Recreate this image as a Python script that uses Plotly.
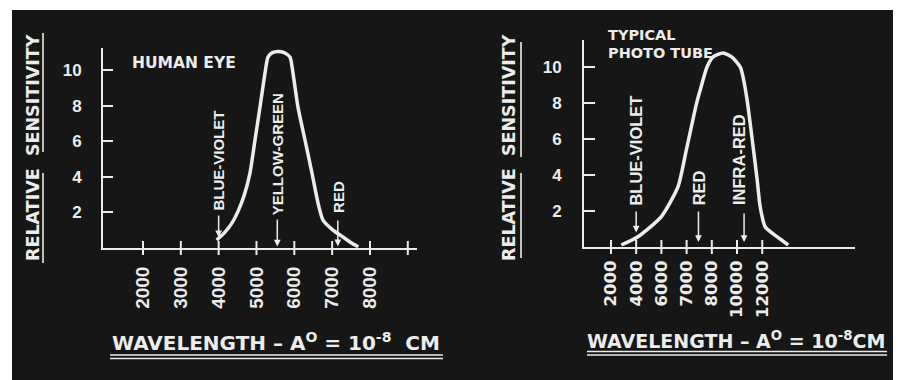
import plotly.graph_objects as go

# ── Data ─────────────────────────────────────────────────────────

# Human eye: wavelength (angstrom) vs relative sensitivity
eye_wavelength = [3947, 4150, 4350, 4520, 4680, 4828, 4961, 5093, 5225, 5304,
                  5420, 5569, 5730, 5886, 5965, 6097, 6282, 6467, 6626, 6758,
                  7022, 7287, 7500, 7691]
eye_sensitivity = [0.45, 0.85, 1.4, 2.1, 3.0, 4.21, 6.07, 7.92, 9.83, 10.73,
                   10.98, 11.05, 10.98, 10.73, 9.83, 7.92, 6.07, 4.21, 2.53,
                   1.57, 1.01, 0.62, 0.3, 0.07]
eye_tick_vals = [2000, 3000, 4000, 5000, 6000, 7000, 8000, 9000]
eye_tick_text = ["2000", "3000", "4000", "5000", "6000", "7000", "8000", ""]
eye_marks = ["BLUE-VIOLET", "YELLOW-GREEN", "RED"]
eye_mark_x = [4000, 5550, 7150]

# Photo tube: the original axis has evenly spaced ticks with uneven labels,
# so x is kept in tick-step units
tube_x = [1.41, 2.07, 3.0, 3.66, 3.99, 4.39, 4.54, 4.81, 5.05, 5.45, 5.8,
          6.13, 6.24, 6.4, 6.52, 6.64, 6.8, 6.92, 7.12, 7.6, 8.03]
tube_sensitivity = [0.11, 0.57, 1.69, 3.35, 5.39, 7.95, 8.72, 10.0, 10.56,
                    10.78, 10.55, 10.0, 9.44, 8.17, 6.89, 5.56, 3.72, 2.22,
                    1.11, 0.56, 0.11]
tube_tick_vals = [1, 2, 3, 4, 5, 6, 7]
tube_tick_text = ["2000", "4000", "6000", "7000", "8000", "10000", "12000"]
tube_marks = ["BLUE-VIOLET", "RED", "INFRA-RED"]
tube_mark_x = [2.0, 4.47, 6.28]

y_tick_vals = [2, 4, 6, 8, 10]

# ── Style ────────────────────────────────────────────────────────

W, H = 898, 380
INK = "#ececec"
BG = "#161616"
ARIAL_B = "Liberation Sans, Arial, sans-serif"
WIDE_B = "DejaVu Sans, Verdana, sans-serif"


def px(x):
    return x / W


def py(y):
    return 1 - y / H


def axis_common():
    return dict(
        showline=True, linecolor=INK, linewidth=2,
        showgrid=False, zeroline=False,
    )


fig = go.Figure()

# curves
fig.add_trace(go.Scatter(
    x=eye_wavelength, y=eye_sensitivity, mode="lines",
    line=dict(color=INK, width=3.5, shape="spline", smoothing=0.6),
    xaxis="x", yaxis="y", cliponaxis=False, hoverinfo="skip",
))
fig.add_trace(go.Scatter(
    x=tube_x, y=tube_sensitivity, mode="lines",
    line=dict(color=INK, width=3.5, shape="spline", smoothing=0.6),
    xaxis="x2", yaxis="y2", cliponaxis=False, hoverinfo="skip",
))

# tick marks that cross the x axes
fig.add_trace(go.Scatter(
    x=eye_tick_vals, y=[0] * len(eye_tick_vals), mode="markers",
    marker=dict(symbol="line-ns", size=10, line=dict(color=INK, width=2)),
    xaxis="x", yaxis="y", cliponaxis=False, hoverinfo="skip",
))
fig.add_trace(go.Scatter(
    x=tube_tick_vals, y=[0] * len(tube_tick_vals), mode="markers",
    marker=dict(symbol="line-ns", size=10, line=dict(color=INK, width=2)),
    xaxis="x2", yaxis="y2", cliponaxis=False, hoverinfo="skip",
))

annotations = []


def add_marks(names, xs, xref, yref, tail, head, text_y, size, text_dx=0):
    for name, x in zip(names, xs):
        annotations.append(dict(
            x=x, y=head, ax=x, ay=tail, xref=xref, yref=yref,
            axref=xref, ayref=yref, text="", showarrow=True,
            arrowhead=2, arrowsize=0.9, arrowwidth=1.5, arrowcolor=INK,
        ))
        annotations.append(dict(
            x=x, y=text_y, xref=xref, yref=yref, text=name, showarrow=False,
            textangle=-90, xanchor="center", yanchor="bottom", xshift=text_dx,
            font=dict(family=ARIAL_B, size=size, color=INK, weight="bold"),
        ))


add_marks(eye_marks[:1], eye_mark_x[:1], "x", "y", 1.91, 0.6, 1.97, 15)
add_marks(eye_marks[1:2], eye_mark_x[1:2], "x", "y", 1.69, 0.08, 1.74, 15)
add_marks(eye_marks[2:], eye_mark_x[2:], "x", "y", 1.63, 0.1, 1.85, 15)
add_marks(tube_marks[:1], tube_mark_x[:1], "x2", "y2", 2.06, 0.8, 2.2, 16.5)
add_marks(tube_marks[1:2], tube_mark_x[1:2], "x2", "y2", 2.06, 0.28, 2.2, 16.5)
add_marks(tube_marks[2:], tube_mark_x[2:], "x2", "y2", 1.94, 0.28, 2.2, 16.5,
          text_dx=-5)

annotations += [
    dict(x=px(130), y=py(63), xref="paper", yref="paper", text="HUMAN EYE",
         showarrow=False, xanchor="left", yanchor="middle",
         font=dict(family=WIDE_B, size=15.5, color=INK, weight="bold")),
    dict(x=px(606), y=py(35), xref="paper", yref="paper", text="TYPICAL",
         showarrow=False, xanchor="left", yanchor="middle",
         font=dict(family=WIDE_B, size=14.5, color=INK, weight="bold")),
    dict(x=px(606), y=py(53), xref="paper", yref="paper", text="PHOTO TUBE",
         showarrow=False, xanchor="left", yanchor="middle",
         font=dict(family=WIDE_B, size=14.5, color=INK, weight="bold")),
]

ylab_font = dict(family=WIDE_B, size=17.5, color=INK, weight="bold")
for cx in (33, 509):
    annotations.append(dict(
        x=px(cx), y=py(148), xref="paper", yref="paper",
        text="RELATIVE  SENSITIVITY", showarrow=False, textangle=-90,
        xanchor="center", yanchor="middle", font=ylab_font,
    ))

annotations += [
    dict(x=px(276), y=py(342), xref="paper", yref="paper",
         text="WAVELENGTH \u2013 A<sup>O</sup> = 10<sup>-8</sup>  CM",
         showarrow=False, xanchor="center", yanchor="middle",
         font=dict(family=WIDE_B, size=20, color=INK, weight="bold")),
    dict(x=px(736), y=py(340), xref="paper", yref="paper",
         text="WAVELENGTH \u2013 A<sup>O</sup> = 10<sup>-8</sup>CM",
         showarrow=False, xanchor="center", yanchor="middle",
         font=dict(family=WIDE_B, size=19, color=INK, weight="bold")),
]


def hline(x0, x1, y, width=1.6):
    return dict(type="line", xref="paper", yref="paper",
                x0=px(x0), x1=px(x1), y0=py(y), y1=py(y),
                line=dict(color=INK, width=width))


def vline(x, y0, y1, width=1.6):
    return dict(type="line", xref="paper", yref="paper",
                x0=px(x), x1=px(x), y0=py(y0), y1=py(y1),
                line=dict(color=INK, width=width))


shapes = [
    # black photo board inside the white scan border
    dict(type="rect", xref="paper", yref="paper", layer="below",
         x0=px(12), x1=px(893), y0=0, y1=py(10),
         fillcolor=BG, line=dict(width=0)),
    # underlines of the axis titles
    hline(110, 443, 355), hline(110, 443, 358.5),
    hline(587, 887, 351.5), hline(587, 887, 355),
    vline(43, 173, 263), vline(43, 33, 152),
    vline(521, 173, 258), vline(521, 42, 157),
]

tick_font_l = dict(family=ARIAL_B, size=19, color=INK, weight="bold")
tick_font_r = dict(family=WIDE_B, size=16.5, color=INK, weight="bold")
ytick_font = dict(family=ARIAL_B, size=17, color=INK, weight="bold")

fig.update_layout(
    width=W, height=H,
    margin=dict(l=0, r=0, t=0, b=0),
    paper_bgcolor="white",
    plot_bgcolor="rgba(0,0,0,0)",
    showlegend=False,
    xaxis=dict(
        domain=[px(103), px(417)], range=[943, 9243], anchor="y",
        tickvals=eye_tick_vals, ticktext=eye_tick_text, tickangle=-90,
        ticks="", ticklabelstandoff=9, tickfont=tick_font_l, **axis_common(),
    ),
    yaxis=dict(
        domain=[py(248), py(48)], range=[0, 11.24], anchor="x",
        tickvals=y_tick_vals, ticks="inside", ticklen=10, tickwidth=2,
        tickcolor=INK, ticklabelstandoff=16, tickfont=ytick_font,
        **axis_common(),
    ),
    xaxis2=dict(
        domain=[px(584), px(855)], range=[-0.07, 10.68], anchor="y2",
        tickvals=tube_tick_vals, ticktext=tube_tick_text, tickangle=-90,
        ticks="", ticklabelstandoff=5, tickfont=tick_font_r, **axis_common(),
    ),
    yaxis2=dict(
        domain=[py(247), py(40)], range=[0, 11.5], anchor="x2",
        tickvals=y_tick_vals, ticks="inside", ticklen=11, tickwidth=2,
        tickcolor=INK, ticklabelstandoff=17, tickfont=ytick_font,
        **axis_common(),
    ),
    annotations=annotations,
    shapes=shapes,
)

fig.write_html(
    "out.html",
    config={"displayModeBar": False},
    post_script="document.body.style.margin = '0';",
)
